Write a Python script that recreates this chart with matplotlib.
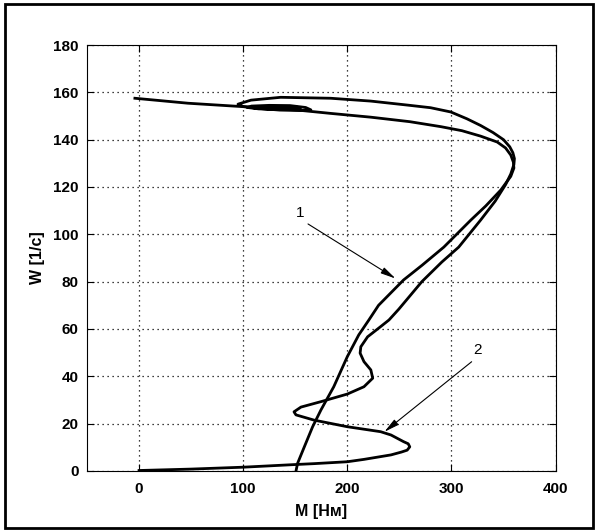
import numpy as np
import matplotlib.pyplot as plt
from matplotlib.patches import Rectangle

plt.rcParams['font.family'] = ['Liberation Sans', 'DejaVu Sans']

# curve 1 - static characteristic M(W)
m1 = [-4, 47, 98, 152.3, 184, 222.6, 260, 289.8, 310, 328, 344, 352, 357,
      359.5, 360, 357, 352, 347.4, 333, 318.6, 292.7, 272, 254, 230, 220.7,
      211, 200, 187, 174.7, 166.7, 159, 152.3, 150.7]
w1 = [157.5, 155.4, 154.0, 152.5, 151.1, 149.5, 147.6, 145.5, 143.8, 141.5,
      139.0, 136.5, 133.5, 130.5, 128.0, 124.5, 121.5, 118.7, 112.0, 106.0,
      94.6, 87.0, 80.7, 70.0, 63.8, 57.5, 48.3, 35.6, 25.8, 18.7, 10.5, 3.3,
      0.0]

# curve 2 - dynamic characteristic M(W)
m2 = [0, 50, 100, 149, 168, 200, 216, 242, 252, 257.5, 260, 258.5, 254, 242,
      232, 200, 168, 150.7, 148.8, 155.5, 174.7, 200, 216, 224.4, 222.6, 216,
      212.3, 213, 219.5, 232, 240, 249.5, 271.6, 290.8, 307, 328, 342, 352,
      357, 360, 360.5, 359, 356, 350, 340, 328, 315, 299.4, 280, 258, 222.6,
      184, 136, 107.5, 95, 100, 115, 135, 155, 165, 160, 145, 125, 108, 104,
      115, 135, 150, 155, 145, 130, 120, 125, 138, 142, 135]
w2 = [0.2, 0.8, 1.6, 2.7, 3.1, 3.9, 4.9, 6.8, 8.0, 8.8, 10.2, 11.5, 12.4,
      15.2, 16.6, 18.7, 21.5, 23.7, 25.0, 27.0, 29.3, 32.5, 35.6, 39.2, 42.7,
      46.2, 49.8, 52.5, 56.7, 61.0, 63.8, 68.4, 80.0, 88.3, 94.6, 106.0,
      114.0, 121.0, 125.5, 129.5, 132.0, 134.5, 137.0, 140.0, 143.0, 146.0,
      148.8, 151.7, 153.5, 154.6, 156.3, 157.5, 157.9, 156.7, 155.0, 154.0,
      153.2, 152.5, 152.3, 152.6, 153.6, 154.4, 154.5, 154.2, 153.6, 153.0,
      152.8, 153.0, 153.5, 154.0, 154.0, 153.6, 153.2, 153.2, 153.5, 153.6]

xticks = [0, 100, 200, 300, 400]
yticks = [0, 20, 40, 60, 80, 100, 120, 140, 160, 180]

fig = plt.figure(figsize=(5.98, 5.32), dpi=100)
ax = fig.add_axes([0.1455, 0.1147, 0.7835, 0.8007])

ax.plot(m1, w1, color='black', lw=2, solid_joinstyle='round')
ax.plot(m2, w2, color='black', lw=2, solid_joinstyle='round')

ax.set_xlim(-50, 400)
ax.set_ylim(0, 180)
ax.set_xticks(xticks)
ax.set_yticks(yticks)
ax.grid(True, color='black', linestyle=(0, (1, 3)), lw=0.9)
ax.tick_params(direction='in', length=5, top=True, right=True, labelsize=11)
ax.tick_params(axis='x', pad=8)
ax.tick_params(axis='y', pad=6)
for lab in ax.get_xticklabels() + ax.get_yticklabels():
    lab.set_fontweight('bold')

ax.set_xlabel('M [Нм]', fontsize=11.5, fontweight='bold', labelpad=6)
ax.set_ylabel('W [1/с]', fontsize=11.5, fontweight='bold', labelpad=6)

# arrows with numbers
ax.annotate('', xy=(248.6, 80.7), xytext=(160, 105),
            arrowprops=dict(arrowstyle='-|>,head_length=0.9,head_width=0.2',
                            color='black', lw=0.8))
ax.text(154.5, 109, '1', fontsize=11, ha='center', va='center')
ax.annotate('', xy=(233.5, 15.8), xytext=(321.5, 46.9),
            arrowprops=dict(arrowstyle='-|>,head_length=0.9,head_width=0.2',
                            color='black', lw=0.8))
ax.text(325, 51, '2', fontsize=11, ha='center', va='center')

# outer frame
fig.patches.append(Rectangle((0.009, 0.008), 0.983, 0.985, transform=fig.transFigure,
                             fill=False, edgecolor='black', lw=2))

plt.savefig('out.png', dpi=100)
